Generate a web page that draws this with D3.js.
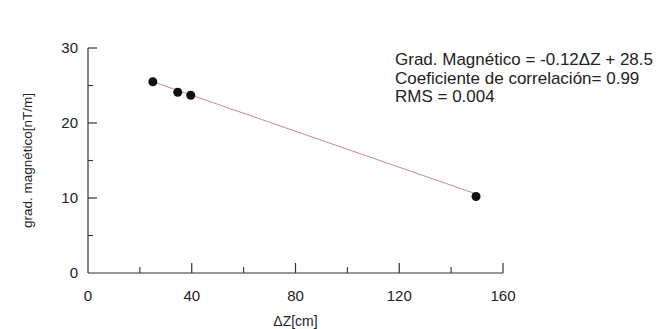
<!DOCTYPE html>
<html>
<head>
<meta charset="utf-8">
<script src="https://cdn.jsdelivr.net/npm/d3@7"></script>
<style>
  html, body { margin: 0; padding: 0; background: #fff; }
  svg { display: block; }
  text { font-family: "Liberation Sans", Arial, sans-serif; fill: #222; }
</style>
</head>
<body>
<script>
// Measured magnetic gradient vs. sensor separation
const deltaZ = [25, 34.6, 39.6, 149.6];
const gradient = [25.5, 24.1, 23.7, 10.2];

// Least-squares fit: grad = slope * ΔZ + intercept
const fitSlope = -0.12;
const fitIntercept = 28.5;
const fitRange = [25, 149.6];

const xTicks = [0, 40, 80, 120, 160];
const xMinorTicks = [20, 60, 100, 140];
const yTicks = [0, 10, 20, 30];
const yMinorTicks = [5, 15, 25];

const annotation = [
  "Grad. Magnético = -0.12ΔZ + 28.5",
  "Coeficiente de correlación= 0.99",
  "RMS = 0.004"
];

const W = 667, H = 329;
const svg = d3.select("body").append("svg").attr("width", W).attr("height", H);

const x = d3.scaleLinear().domain([0, 160]).range([88, 503]);
const y = d3.scaleLinear().domain([0, 30]).range([273, 48]);

const axisColor = "#333";

// Axes (ticks point inward)
const gx = svg.append("g").attr("transform", `translate(0,${y(0)})`);
gx.append("line").attr("x1", x(0)).attr("x2", x(160)).attr("stroke", axisColor).attr("stroke-width", 1.2);
gx.selectAll(".maj").data(xTicks.filter(d => d > 0)).join("line")
  .attr("x1", d => x(d)).attr("x2", d => x(d)).attr("y1", 0).attr("y2", -10)
  .attr("stroke", axisColor).attr("stroke-width", 1.2);
gx.selectAll(".min").data(xMinorTicks).join("line")
  .attr("x1", d => x(d)).attr("x2", d => x(d)).attr("y1", 0).attr("y2", -6)
  .attr("stroke", axisColor).attr("stroke-width", 1.1);
gx.selectAll("text").data(xTicks).join("text")
  .attr("x", d => x(d)).attr("y", 28).attr("text-anchor", "middle")
  .attr("font-size", 15).text(d => d);

const gy = svg.append("g").attr("transform", `translate(${x(0)},0)`);
gy.append("line").attr("y1", y(0)).attr("y2", y(30)).attr("stroke", axisColor).attr("stroke-width", 1.2);
gy.selectAll(".maj").data(yTicks.filter(d => d > 0)).join("line")
  .attr("y1", d => y(d)).attr("y2", d => y(d)).attr("x1", 0).attr("x2", 9)
  .attr("stroke", axisColor).attr("stroke-width", 1.2);
gy.selectAll(".min").data(yMinorTicks).join("line")
  .attr("y1", d => y(d)).attr("y2", d => y(d)).attr("x1", 0).attr("x2", 5)
  .attr("stroke", axisColor).attr("stroke-width", 1.1);
gy.selectAll("text").data(yTicks).join("text")
  .attr("x", -10).attr("y", d => y(d)).attr("dy", "0.35em").attr("text-anchor", "end")
  .attr("font-size", 15).text(d => d);

// Axis titles
svg.append("text")
  .attr("transform", `translate(32,${(y(0) + y(30)) / 2}) rotate(-90)`)
  .attr("text-anchor", "middle").attr("font-size", 13.5)
  .text("grad. magnético[nT/m]");
svg.append("text")
  .attr("x", x(80)).attr("y", 326).attr("text-anchor", "middle")
  .attr("font-size", 14).attr("font-family", "Liberation Serif, serif")
  .text("ΔZ[cm]");

// Regression line
svg.append("line")
  .attr("x1", x(fitRange[0])).attr("y1", y(fitSlope * fitRange[0] + fitIntercept))
  .attr("x2", x(fitRange[1])).attr("y2", y(fitSlope * fitRange[1] + fitIntercept))
  .attr("stroke", "#c98a8a").attr("stroke-width", 1);

// Data points
svg.selectAll("circle").data(deltaZ).join("circle")
  .attr("cx", d => x(d)).attr("cy", (d, i) => y(gradient[i]))
  .attr("r", 4.5).attr("fill", "#111");

// Fit statistics
svg.append("g").selectAll("text").data(annotation).join("text")
  .attr("x", 395).attr("y", (d, i) => 65 + i * 18.5)
  .attr("font-size", 17).text(d => d);
</script>
</body>
</html>
